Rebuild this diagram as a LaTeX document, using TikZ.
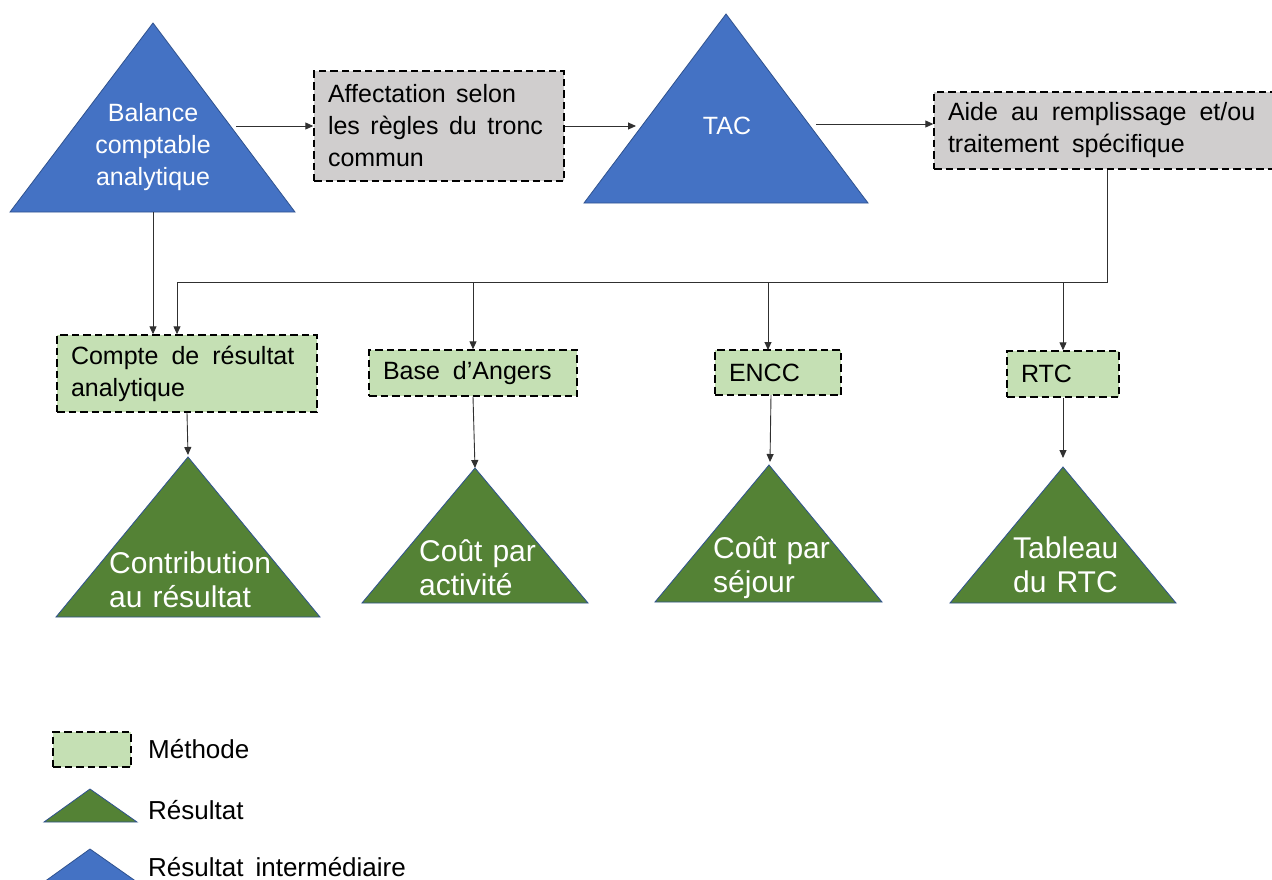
\documentclass[tikz,border=0pt]{standalone}
\usepackage{fontspec}
\setmainfont{Liberation Sans}
\usetikzlibrary{arrows.meta,calc}
\definecolor{triblue}{HTML}{4472C4}
\definecolor{trigreen}{HTML}{548235}
\definecolor{edgeblue}{HTML}{2F528F}
\definecolor{methgreen}{HTML}{C5E0B4}
\definecolor{stepgray}{HTML}{D0CECE}
\definecolor{linegray}{HTML}{303030}
\newcommand\mywidespaces{\spaceskip=13pt\relax}
\newcommand\mymidspaces{\spaceskip=10.5pt\relax}
\DeclareRobustCommand\mylegfont{\fontsize{26}{30}\selectfont\spaceskip=12pt\relax}
\tikzset{
  dashbox/.style={draw=black, line width=1.4pt, dash pattern=on 7.5pt off 4pt,
    inner xsep=14pt, inner ysep=0pt, align=left, font=\fontsize{25}{32}\selectfont,
    execute at begin node=\mywidespaces},
  graybox/.style={dashbox, fill=stepgray},
  greenbox/.style={dashbox, fill=methgreen},
  bluetri/.style={fill=triblue, draw=edgeblue, line width=0.8pt},
  greentri/.style={fill=trigreen, draw=edgeblue, line width=0.8pt},
  bluetext/.style={text=white, align=center, inner sep=0pt, font=\fontsize{25}{32}\selectfont},
  greentext/.style={text=white, align=left, inner sep=0pt, text width=220pt, anchor=base west,
    font=\fontsize{30}{34}\selectfont},
  legendtext/.style={anchor=base west, inner sep=0pt, font=\mylegfont},
  arr/.style={draw=linegray, line width=0.9pt, -{Triangle[length=8pt,width=7pt]}},
}
\begin{document}
\begin{tikzpicture}[x=1pt,y=-1pt]
\useasboundingbox (0,0) rectangle (1272,879);

% blue triangles (intermediate results)
\path[bluetri] (153,23) coordinate (balT) -- (295,212) coordinate (balR) -- (10,212) coordinate (balL) -- cycle;
\node[bluetext] (bal) at (153,147.5) {Balance\\comptable\\analytique};
\path[bluetri] (726,14) coordinate (tacT) -- (868,203) coordinate (tacR) -- (584,203) coordinate (tacL) -- cycle;
\node[bluetext] (tac) at (727,126) {TAC};

% gray method boxes
\node[graybox, text width=222pt, minimum height=110pt, execute at begin node=\mymidspaces] (g1) at (439,126)
  {Affectation selon\\les règles du tronc\\commun};
\node[graybox, text width=318pt, minimum height=77pt] (g2) at (1107,130.5)
  {Aide au remplissage et/ou\\traitement spécifique};

% green method boxes
\node[greenbox, text width=232pt, minimum height=77pt] (cra) at (187,373.5)
  {Compte de résultat\\analytique};
\node[greenbox, text width=180pt, minimum height=46pt] (ba) at (473,373) {Base d’Angers};
\node[greenbox, text width=98pt, minimum height=45pt] (en) at (778,372.5) {ENCC};
\node[greenbox, text width=84pt, minimum height=46pt] (rtc) at (1063,374) {RTC};

% green triangles (results)
\path[greentri] (188,457) coordinate (ctT) -- (320,617) -- (56,617) -- cycle;
\node[greentext] (ct) at (109,573) {Contribution\\au résultat};
\path[greentri] (475,468) coordinate (acT) -- (588,603) -- (362,603) -- cycle;
\node[greentext] (ac) at (419,561) {Coût par\\activité};
\path[greentri] (769,465) coordinate (sjT) -- (882,602) -- (655,602) -- cycle;
\node[greentext] (sj) at (713,558) {Coût par\\séjour};
\path[greentri] (1063,467) coordinate (tbT) -- (1176,603) -- (950,603) -- cycle;
\node[greentext] (tb) at (1013,558) {Tableau\\du RTC};

% top-row connectors
\coordinate (balE) at (236,126);
\coordinate (tacW) at (636,126);
\coordinate (tacE) at (816,124);
\draw[arr] (balE) -- (g1.west);
\draw[arr] (g1.east) -- (tacW);
\draw[arr] (tacE) -- (g2.west |- tacE);

% Balance down to Compte de resultat
\coordinate (balB) at (153,212);
\draw[arr] (balB) -- (balB |- cra.north);

% bus from Aide box
\coordinate (busL) at (177,282);
\coordinate (enIn) at (768,350);
\draw[arr] (g2.south) |- (busL) -- (busL |- cra.north);
\draw[arr] (ba.north |- busL) -- (ba.north);
\draw[arr] (enIn |- busL) -- (enIn);
\draw[arr] (rtc.north |- busL) -- (rtc.north);

% boxes down to results
\coordinate (enOut) at (771,395);
\draw[arr] (cra.south) -- ($(ctT)+(0,-2)$);
\draw[arr] (ba.south) -- (acT);
\draw[arr] (enOut) -- ($(sjT)+(1,-3)$);
\draw[arr] (rtc.south) -- ($(tbT)+(0,-9)$);

% legend
\node[greenbox, minimum width=78pt, minimum height=35pt, inner xsep=0pt] (lgm) at (92,749.5) {};
\node[legendtext] (lgmt) at (148,758) {Méthode};
\path[greentri] (90,789) coordinate (lgrT) -- (137,822) -- (44,822) -- cycle;
\node[legendtext] (lgrt) at (148,819) {Résultat};
\path[bluetri] (90,849) coordinate (lgiT) -- (137,882) -- (44,882) -- cycle;
\node[legendtext] (lgit) at (148,876) {Résultat intermédiaire};
\end{tikzpicture}
\end{document}
